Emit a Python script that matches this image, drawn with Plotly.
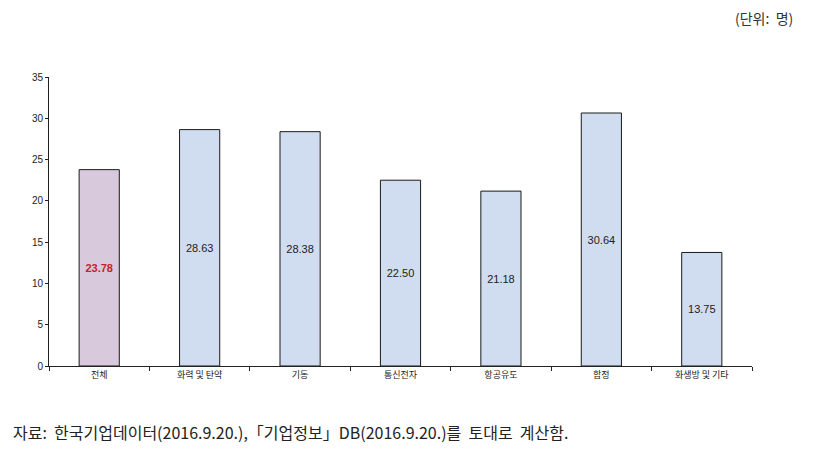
import plotly.graph_objects as go

categories = ["전체", "화력 및 탄약", "기동", "통신전자", "항공유도", "함정", "화생방 및 기타"]
values = [23.78, 28.63, 28.38, 22.50, 21.18, 30.64, 13.75]
bar_colors = ["#d8c9dd"] + ["#d0dcef"] * 6
label_colors = ["#c8202a"] + ["#222222"] * 6
labels = ["<b>%.2f</b>" % values[0]] + ["%.2f" % v for v in values[1:]]

fig = go.Figure(go.Bar(
    x=categories, y=values,
    marker=dict(color=bar_colors, line=dict(color="#1a1a1a", width=1)),
    width=0.4,
    text=labels, textposition="inside", insidetextanchor="middle",
    textfont=dict(color=label_colors, size=11, family="Liberation Sans Narrow, Arial"),
    textangle=0,
))

fig.update_layout(
    width=827, height=456,
    margin=dict(l=49, r=75, t=77, b=90),
    plot_bgcolor="white", paper_bgcolor="white",
    showlegend=False,
    font=dict(family="Noto Sans CJK KR", color="#222"),
    xaxis=dict(showline=True, linecolor="#222", linewidth=1,
               ticks="outside", ticklen=4, tickcolor="#222", tickson="boundaries",
               tickfont=dict(size=9, family="Noto Sans CJK KR"),
               showgrid=False, zeroline=False),
    yaxis=dict(range=[0, 35], dtick=5, showline=True, linecolor="#222", linewidth=1,
               ticks="outside", ticklen=3, tickcolor="#222",
               tickfont=dict(size=10, family="Liberation Sans Narrow, Arial"),
               showgrid=False, zeroline=False),
    annotations=[
        dict(text="(단위:  명)", xref="paper", yref="paper", x=1.0, y=1.0,
             xshift=43, yshift=59, xanchor="right", yanchor="middle",
             showarrow=False, font=dict(size=14, color="#333")),
        dict(text="자료:  한국기업데이터(2016.9.20.),「기업정보」DB(2016.9.20.)를  토대로  계산함.",
             xref="paper", yref="paper", x=0, y=0, xshift=-38, yshift=-66,
             xanchor="left", yanchor="middle", showarrow=False,
             font=dict(size=16, color="#222")),
    ],
)

fig.write_html("out.html")
